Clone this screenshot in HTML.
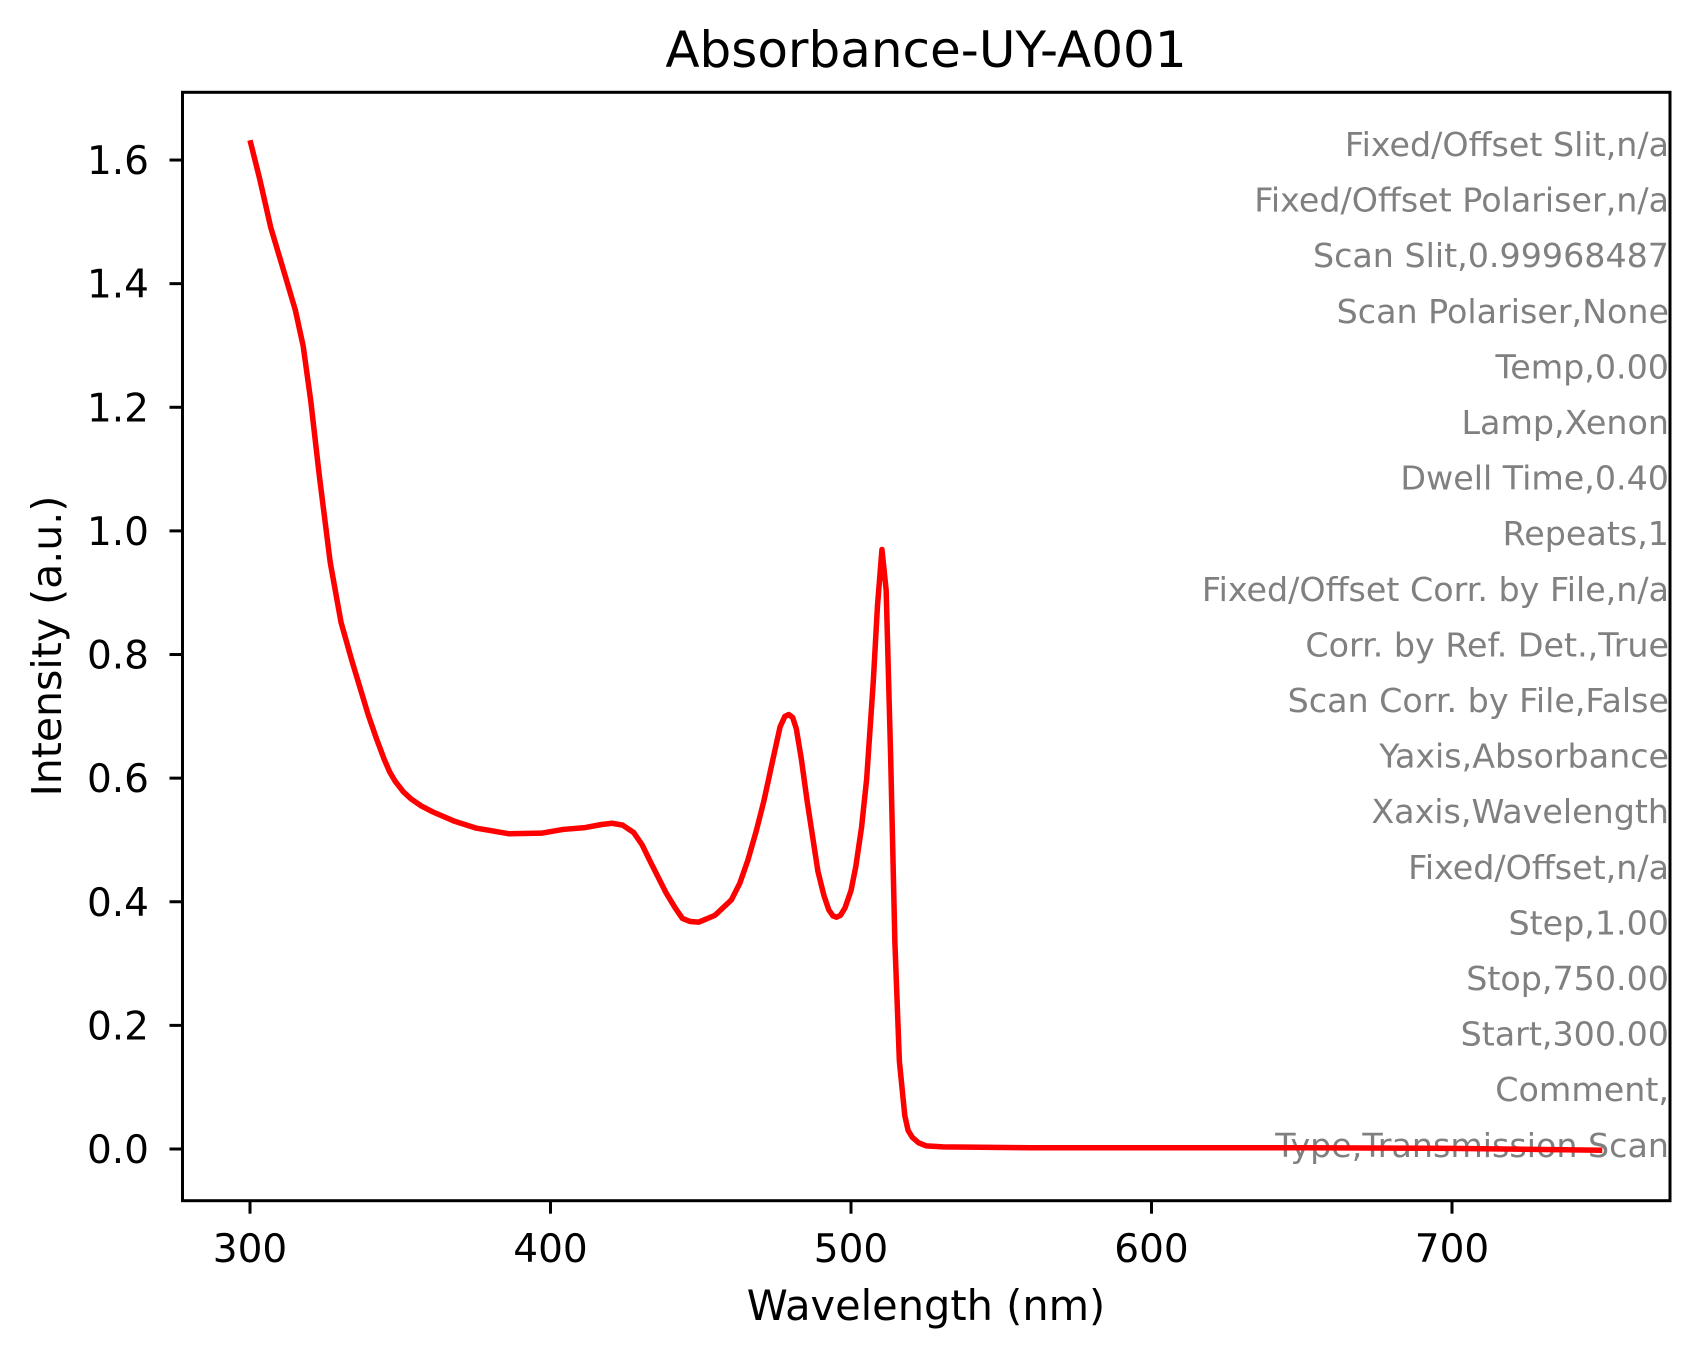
<!DOCTYPE html>
<html>
<head>
<meta charset="utf-8">
<style>
html,body{margin:0;padding:0;background:#fff;}
svg{display:block;}
text{font-family:"DejaVu Sans","Liberation Sans",sans-serif;}
</style>
</head>
<body>
<svg id="chart" width="1700" height="1357" viewBox="0 0 1700 1357" xmlns="http://www.w3.org/2000/svg">
  <rect x="0" y="0" width="1700" height="1357" fill="#fff"/>
  <text x="926" y="67" font-size="50" text-anchor="middle" fill="#000">Absorbance-UY-A001</text>
  <g id="annotations"></g>
  <g id="series"></g>
  <g id="axes"></g>
  <text x="926" y="1320" font-size="41.5" text-anchor="middle" fill="#000">Wavelength (nm)</text>
  <text transform="translate(61,646) rotate(-90)" font-size="41" text-anchor="middle" fill="#000">Intensity (a.u.)</text>
</svg>
<script>
const wavelengths = [300,303.2,306.9,311.2,315.1,317.7,320.2,323.1,326.7,330.3,333.9,339.3,342,344.7,346.5,348.3,351,353.7,357,361,368.2,375.4,386.2,397,404.2,411.5,417,420.5,424,427.7,430.5,433.1,438.5,441.5,443.9,446.5,449.3,454.7,460.2,463,465.6,468.5,471,474,476.4,478,479.3,480.6,481.8,483.5,485.4,489,491,492.6,494,495.1,496.5,498,500,501.6,503.5,505.2,507.4,508.8,510.3,511.7,513.2,514.6,516.1,517.9,519,520.4,522.5,525.1,530.5,560,600,650,700,750];
const absorbance = [1.632,1.570,1.491,1.421,1.357,1.299,1.211,1.088,0.949,0.852,0.790,0.703,0.665,0.630,0.610,0.595,0.578,0.566,0.555,0.545,0.530,0.519,0.510,0.511,0.517,0.520,0.525,0.527,0.524,0.512,0.492,0.466,0.414,0.390,0.373,0.368,0.367,0.378,0.403,0.430,0.466,0.515,0.563,0.630,0.683,0.700,0.703,0.698,0.680,0.630,0.563,0.449,0.410,0.387,0.377,0.375,0.378,0.390,0.418,0.457,0.520,0.598,0.755,0.878,0.970,0.904,0.633,0.335,0.142,0.054,0.030,0.019,0.010,0.005,0.0035,0.002,0.002,0.002,0.001,-0.002];
const xTicks = [300,400,500,600,700];
const yTicks = [0.0,0.2,0.4,0.6,0.8,1.0,1.2,1.4,1.6];
const annotationLines = ["Fixed/Offset Slit,n/a","Fixed/Offset Polariser,n/a","Scan Slit,0.99968487","Scan Polariser,None","Temp,0.00","Lamp,Xenon","Dwell Time,0.40","Repeats,1","Fixed/Offset Corr. by File,n/a","Corr. by Ref. Det.,True","Scan Corr. by File,False","Yaxis,Absorbance","Xaxis,Wavelength","Fixed/Offset,n/a","Step,1.00","Stop,750.00","Start,300.00","Comment,","Type,Transmission Scan"];

const NS = "http://www.w3.org/2000/svg";
const L = 182.5, R = 1670, T = 92.3, B = 1200.7;
const xs = v => 250 + (v - 300) * 3.005;
const ys = v => 1149 - v * 618.1;

function mk(tag, attrs, parent){
  const e = document.createElementNS(NS, tag);
  for (const k in attrs) e.setAttribute(k, attrs[k]);
  parent.appendChild(e);
  return e;
}

const ann = document.getElementById('annotations');
annotationLines.forEach((s, i) => {
  const t = mk('text', {x: 1669, y: 156 + 55.6 * i, 'font-size': 33.3, 'text-anchor': 'end', fill: '#808080'}, ann);
  
  
  t.textContent = s;
});

const ser = document.getElementById('series');
let d = '';
wavelengths.forEach((w, i) => { d += (i ? 'L' : 'M') + xs(w).toFixed(2) + ' ' + ys(absorbance[i]).toFixed(2) + ' '; });
const line = mk('path', {d: d, fill: 'none', stroke: '#ff0000', 'stroke-width': 5.5, 'stroke-linejoin': 'round', 'stroke-linecap': 'butt'}, ser);



const ax = document.getElementById('axes');
const frame = mk('rect', {x: L, y: T, width: R - L, height: B - T, fill: 'none', stroke: '#000', 'stroke-width': 3}, ax);



xTicks.forEach(v => {
  const x = xs(v);
  const tk = mk('line', {x1: x, x2: x, y1: B, y2: B + 13, stroke: '#000', 'stroke-width': 3}, ax);
  
  
  const lb = mk('text', {x: x, y: 1262, 'font-size': 39, 'text-anchor': 'middle', fill: '#000'}, ax);
  
  
  lb.textContent = String(v);
});
yTicks.forEach(v => {
  const y = ys(v);
  const tk = mk('line', {x1: L - 13, x2: L, y1: y, y2: y, stroke: '#000', 'stroke-width': 3}, ax);
  
  
  const lb = mk('text', {x: 149, y: y + 14, 'font-size': 39, 'text-anchor': 'end', fill: '#000'}, ax);
  
  
  lb.textContent = v.toFixed(1);
});
</script>
</body>
</html>
